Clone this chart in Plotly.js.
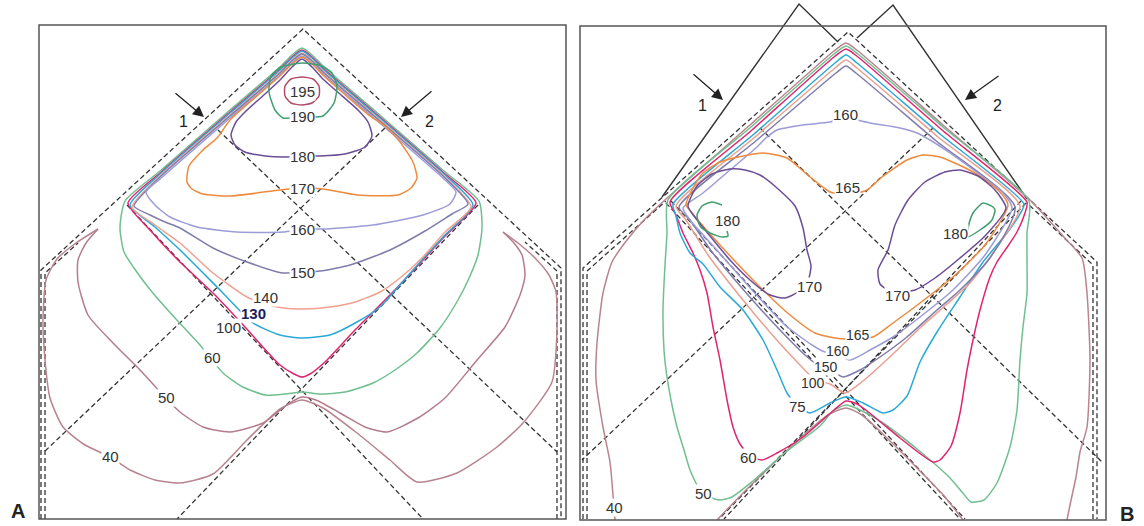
<!DOCTYPE html>
<html>
<head>
<meta charset="utf-8">
<script src="https://cdn.plot.ly/plotly-3.0.1.min.js"></script>
<style>
  html, body { margin: 0; padding: 0; background: #fff; }
  #plot { width: 1144px; height: 526px; }
</style>
</head>
<body>
<div id="plot"></div>
<script>
// Isodose lines, drawing units: x to the right, y downward.

// ---------- Panel A ----------
const isoA195 = [[302,77],[313,79],[319,86],[319,96],[312,103],[302,105],[291,103],[285,96],[285,86],[291,79],[302,77]];
const isoA190 = [[302,117],[283,118],[275,110],[269,92],[271,76],[281,67],[302,63],[322,66],[332,73],[337,86],[334,103],[323,116],[302,117]];
const isoA180 = [[302,156],[285,157],[265,156],[245,152],[235,145],[231,135],[236,122],[246,111],[265,94],[280,80],[292,67],[302,59],[312,67],[324,80],[340,94],[358,110],[368,122],[372,136],[365,147],[345,154],[320,156],[302,156]];
const isoA170 = [[187,182],[189,166],[203,150],[218,137],[230,120],[280,76],[292,64],[302,57],[312,64],[324,76],[370,116],[385,126],[400,142],[413,162],[417,178],[411,188],[398,195],[357,195],[323,189],[302,188],[280,190],[230,196],[203,194],[192,189],[187,182]];
const isoA160 = [[146,192],[160,179],[230,118],[280,75],[292,63],[302,56],[312,63],[324,75],[374,118],[444,179],[456,192],[450,204],[423,215],[373,225],[323,229],[302,229],[283,232],[237,232],[197,227],[170,217],[155,205],[146,192]];
const isoA150 = [[134,206],[160,177],[230,116],[280,73],[292,61],[302,54],[312,61],[324,73],[374,116],[444,177],[468,204],[452,214],[425,231],[390,250],[350,265],[320,271],[302,272],[283,273],[247,262],[213,248],[180,228],[165,222],[150,215],[134,206]];
const isoA140 = [[132,207],[160,176],[230,115],[280,72],[292,60],[302,53],[312,60],[324,72],[374,115],[444,176],[471,207],[445,232],[423,257],[400,278],[380,292],[355,302],[330,307],[302,309],[283,308],[265,304],[247,297],[213,273],[180,243],[155,225],[132,207]];
const isoA130 = [[130,205],[160,174],[230,113],[280,70],[292,58],[302,51],[312,58],[324,70],[374,113],[444,174],[473,205],[445,235],[420,262],[400,285],[380,307],[357,322],[330,335],[302,338],[280,335],[253,323],[220,290],[180,250],[155,227],[130,205]];
const isoA100 = [[128,203],[160,173],[230,112],[280,69],[292,57],[302,50],[312,57],[324,69],[374,112],[444,173],[476,203],[445,236],[423,260],[390,295],[355,330],[325,362],[310,374],[302,377],[294,374],[280,365],[245,327],[215,295],[178,260],[150,230],[128,203]];
const isoA60 = [[125,201],[160,171],[230,110],[280,67],[292,55],[302,48],[312,55],[324,67],[374,110],[444,171],[479,201],[482,228],[478,255],[470,276],[458,300],[440,328],[417,353],[395,370],[373,383],[345,392],[320,394],[302,392],[285,394],[265,395],[243,387],[223,373],[200,345],[175,318],[152,292],[134,268],[124,252],[120,228],[125,201]];
const isoA50 = [[98,229],[86,243],[78,260],[78,282],[88,315],[113,343],[140,370],[163,395],[180,412],[203,427],[230,432],[263,423],[288,404],[302,397],[316,400],[340,413],[365,427],[387,432],[418,418],[445,398],[477,360],[505,327],[520,295],[525,275],[522,255],[514,243],[503,232]];
const isoA40 = [[98,229],[76,243],[57,259],[46,280],[43,320],[45,360],[50,398],[63,427],[85,445],[110,457],[130,470],[155,480],[180,483],[213,474],[247,440],[280,409],[302,400],[323,408],[357,433],[390,460],[417,482],[457,473],[497,447],[523,423],[552,382],[557,330],[556,292],[549,275],[535,258],[518,243],[503,232]];

const levelsA = ['195','190','180','170','160','150','140','130','100','60','50','40'];
const labelPtsA = [[302,91],[302,116],[302,156],[302,188],[302,229],[302,272],[265,297],[253,313],[228,327],[212,357],[166,397],[110,456]];

// ---------- Panel B ----------
const isoB180L = [[722,205],[712,202],[702,206],[697,215],[700,226],[710,233],[722,237],[728,236],[727,231]];
const isoB180R = [[993,207],[983,203],[973,213],[968,228],[967,237],[980,230],[992,220],[995,210],[993,207]];
const isoB170L = [[688,206],[697,186],[712,174],[730,169],[745,170],[760,175],[777,188],[795,206],[803,228],[807,250],[811,266],[808,281],[798,292],[785,298],[770,295],[750,280],[730,260],[710,236],[694,216],[688,206]];
const isoB170R = [[1006,208],[995,190],[978,176],[960,170],[945,172],[925,182],[908,200],[895,225],[888,250],[878,270],[880,284],[892,292],[915,290],[935,278],[960,258],[985,236],[1006,208]];
const isoB165 = [[847,339],[835,338],[815,333],[790,315],[760,287],[720,245],[692,213],[686,205],[692,190],[703,173],[720,162],[743,156],[763,153],[787,158],[810,177],[830,192],[847,195],[867,190],[882,177],[907,160],[923,155],[940,157],[973,172],[998,190],[1008,205],[985,245],[953,277],[920,303],[893,323],[873,337],[847,339]];
const isoB160 = [[835,354],[825,352],[812,345],[785,325],[752,290],[715,248],[690,220],[683,208],[703,193],[730,170],[757,147],[767,137],[777,130],[803,125],[830,122],[845,118],[870,123],[900,128],[917,133],[930,140],[950,153],[983,177],[1003,193],[1012,208],[985,255],[953,290],[920,317],[893,337],[870,350],[850,360],[835,354]];
const isoB150 = [[843,377],[827,368],[815,363],[805,355],[780,330],[748,295],[712,252],[690,220],[679,207],[757,140],[836,73],[846,66],[856,73],[935,140],[1015,207],[990,258],[960,290],[937,310],[907,337],[880,357],[860,370],[843,377]];
const isoB100 = [[845,393],[830,384],[815,380],[800,365],[775,338],[743,300],[708,255],[686,220],[676,206],[755,137],[835,68],[846,60],[857,68],[938,137],[1020,206],[995,250],[970,283],[947,304],[920,328],[893,354],[863,381],[845,393]];
const isoB75 = [[673,204],[754,134],[835,63],[846,55],[857,63],[940,134],[1024,204],[1020,214],[1007,233],[983,262],[960,297],[937,332],[920,362],[907,396],[893,410],[883,413],[863,403],[846,397],[830,403],[810,413],[797,406],[787,393],[777,370],[763,340],[743,310],[720,287],[703,264],[690,253],[680,233],[676,216],[673,204]];
const isoB60 = [[670,202],[752,130],[834,57],[846,49],[858,57],[942,130],[1027,202],[1025,213],[1017,232],[1008,246],[997,262],[990,277],[980,310],[973,340],[967,370],[960,413],[951,446],[940,460],[933,462],[918,452],[900,438],[867,411],[857,404],[846,401],[834,410],[803,437],[777,453],[762,460],[750,456],[740,444],[733,427],[727,400],[720,360],[713,327],[707,293],[700,270],[693,253],[683,233],[676,215],[670,202]];
const isoB50 = [[668,200],[751,127],[834,54],[846,46],[858,54],[943,127],[1029,201],[1027,233],[1027,262],[1027,293],[1023,327],[1020,360],[1017,410],[1010,447],[997,483],[984,500],[971,502],[962,492],[950,478],[917,449],[883,423],[860,410],[846,405],[833,411],[820,426],[787,451],[753,481],[732,497],[720,500],[710,497],[700,490],[690,470],[684,450],[677,427],[672,405],[667,377],[664,350],[663,310],[665,265],[667,233],[668,200]];
const isoB40 = [[615,520],[613,495],[610,462],[603,427],[596,380],[597,343],[603,293],[612,262],[627,240],[645,219],[666,199],[750,125],[834,51],[846,43],[858,51],[943,125],[1029,199],[1045,216],[1063,236],[1082,258],[1087,293],[1090,360],[1087,427],[1080,452],[1076,477],[1070,505],[1067,520]];
const isoB40v = [[717,520],[745,491],[775,462],[805,434],[828,415],[846,408],[862,415],[890,441],[920,471],[945,497],[963,520]];

const levelsB = ['160','165','180','180','170','170','165','160','150','100','75','60','50','40'];
const labelPtsB = [[845,114],[847,187],[727,220],[955,233],[809,286],[897,295],[858,335],[838,351],[826,367],[813,383],[797,406],[748,457],[703,493],[614,507]];
// the four stacked labels near the lower corner of panel B are set a little smaller
const smallLabelsB = [6,7,8,9];

// ---------- colours per level ----------
const colour = {
  '195': '#b34a66', '190': '#3f9f6f', '180': '#6b4d96', '170': '#ef8a3c',
  '165': '#ef8a3c', '160': '#9c9cd8', '150': '#7f7caa', '140': '#f0a08e',
  '130': '#2aa9d8', '100': '#e0246e', '75': '#2aa9d8', '60': '#70bf90',
  '50': '#b47c8c', '40': '#b8848f'
};
const colourB100 = '#e9a090';
const colourB60 = '#e0246e';
const colourB50 = '#70bf90';
const colourB170 = '#6b4d96';
const colourB180 = '#3f9f6f';

const curves = [
  [isoA40, colour['40']], [isoA50, colour['50']], [isoA60, colour['60']],
  [isoA100, colour['100']], [isoA130, colour['130']], [isoA140, colour['140']],
  [isoA150, colour['150']], [isoA160, colour['160']], [isoA170, colour['170']],
  [isoA180, colour['180']], [isoA190, colour['190']], [isoA195, colour['195']],
  [isoB40, colour['40']], [isoB40v, colour['40']], [isoB50, colourB50],
  [isoB60, colourB60], [isoB75, colour['75']], [isoB100, colourB100],
  [isoB150, colour['150']], [isoB160, colour['160']], [isoB165, colour['165']],
  [isoB170L, colourB170], [isoB170R, colourB170],
  [isoB180L, colourB180], [isoB180R, colourB180]
];

// ---------- reference geometry (dashed) ----------
const guideA = [
  [[41,519],[41,270],[303,29],[561,268],[561,519]],
  [[45,519],[45,273],[78,243]],
  [[557,519],[557,271],[525,242]],
  [[218,130],[557,452]],
  [[385,128],[43,453]],
  [[127,205],[423,519]],
  [[478,205],[177,519]]
];
const guideB = [
  [[583,519],[583,268],[848,32],[1097,262],[1097,519]],
  [[587,519],[587,271],[666,201]],
  [[1093,519],[1093,265],[1027,203]],
  [[760,128],[1103,463]],
  [[933,128],[582,460]],
  [[666,203],[960,519]],
  [[671,201],[965,519]],
  [[1026,203],[719,519]],
  [[1021,201],[724,519]]
];
// beam outlines in panel B
const beamB = [
  [[662,197],[799,4],[838,42]],
  [[857,38],[893,5],[1027,199]]
];

const traces = [];
const xs = p => p.map(q => q[0]);
const ys = p => p.map(q => q[1]);

[...guideA, ...guideB].forEach(g => traces.push({
  x: xs(g), y: ys(g), mode: 'lines', hoverinfo: 'skip',
  line: { color: '#333', width: 1.3, dash: '5px,3px' }
}));
beamB.forEach(g => traces.push({
  x: xs(g), y: ys(g), mode: 'lines', hoverinfo: 'skip',
  line: { color: '#333', width: 1.4 }
}));
curves.forEach(([p, c]) => traces.push({
  x: xs(p), y: ys(p), mode: 'lines', hoverinfo: 'skip',
  line: { color: c, width: 1.5, shape: 'spline', smoothing: 0.6 }
}));

const FONT = 'Liberation Sans, Arial, sans-serif';
const annotations = [];
const addLabel = (txt, pt, size, colr) => annotations.push({
  x: pt[0], y: pt[1], xref: 'x', yref: 'y', text: txt, showarrow: false,
  bgcolor: '#ffffff', borderpad: 0,
  font: { family: FONT, size: size, color: colr || '#333' }
});

levelsA.forEach((t, i) => {
  if (t === '130') addLabel('<b>130</b>', labelPtsA[i], 15, '#1c1c5c');
  else addLabel(t, labelPtsA[i], 15);
});
levelsB.forEach((t, i) => addLabel(t, labelPtsB[i], smallLabelsB.includes(i) ? 14 : 15));

// beam arrows and numbers
const arrow = (tip, tail) => annotations.push({
  x: tip[0], y: tip[1], ax: tail[0], ay: tail[1], xref: 'x', yref: 'y',
  axref: 'x', ayref: 'y', text: '', showarrow: true, arrowhead: 2,
  arrowsize: 1.7, arrowwidth: 1.3, arrowcolor: '#222'
});
arrow([204,117], [174,92]);
arrow([401,117], [433,90]);
arrow([723,100], [692,73]);
arrow([965,100], [1000,75]);
const plain = (txt, pt, size) => annotations.push({
  x: pt[0], y: pt[1], xref: 'x', yref: 'y', text: txt, showarrow: false,
  font: { family: FONT, size: size, color: '#222' }
});
plain('1', [183,121], 16);
plain('2', [429,121], 16);
plain('1', [702,105], 16);
plain('2', [997,105], 16);
plain('<b>A</b>', [18,511], 20);
plain('<b>B</b>', [1127,514], 20);

const layout = {
  width: 1144, height: 526,
  margin: { l: 0, r: 0, t: 0, b: 0 },
  paper_bgcolor: '#fff', plot_bgcolor: '#fff',
  showlegend: false,
  xaxis: { range: [0, 1144], visible: false, fixedrange: true },
  yaxis: { range: [526, 0], visible: false, fixedrange: true },
  shapes: [
    { type: 'rect', xref: 'x', yref: 'y', x0: 39, y0: 25, x1: 566, y1: 519, line: { color: '#555', width: 1.5 } },
    { type: 'rect', xref: 'x', yref: 'y', x0: 580, y0: 26, x1: 1106, y1: 520, line: { color: '#555', width: 1.5 } }
  ],
  annotations: annotations
};

Plotly.newPlot('plot', traces, layout, { staticPlot: true, displayModeBar: false });
</script>
</body>
</html>
